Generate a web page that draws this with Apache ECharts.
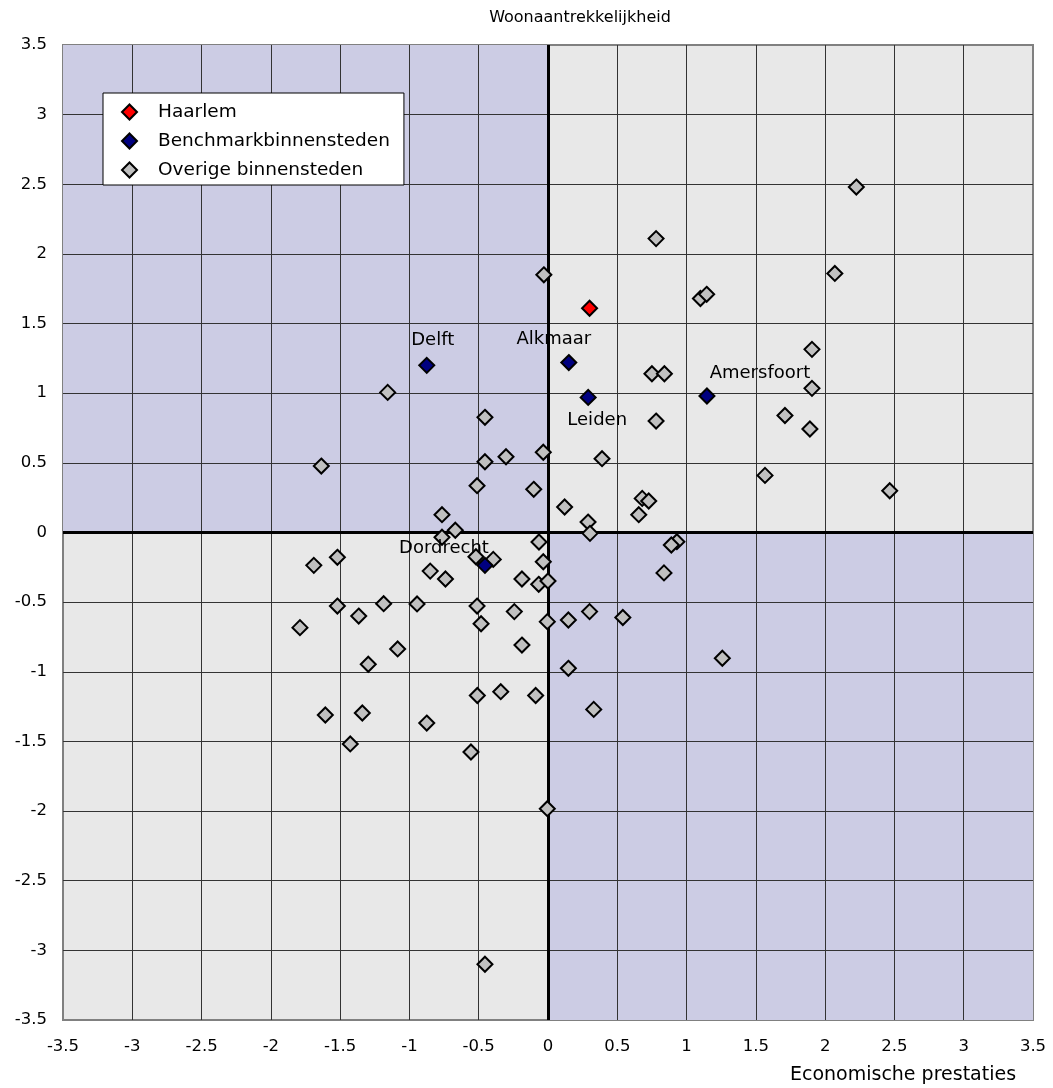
<!DOCTYPE html>
<html>
<head>
<meta charset="utf-8">
<script src="https://cdn.jsdelivr.net/npm/echarts@6/dist/echarts.min.js"></script>
<style>
html,body{margin:0;padding:0;background:#fff;}
#chart{width:1053px;height:1088px;}
</style>
</head>
<body>
<div id="chart"></div>
<script>
// ---- data ----
const seriesNames = ['Haarlem', 'Benchmarkbinnensteden', 'Overige binnensteden'];
const haarlem = [[0.30, 1.61]];
const benchmarkNames = ['Delft', 'Alkmaar', 'Leiden', 'Amersfoort', 'Dordrecht'];
const benchmarkValues = [[-0.875, 1.20], [0.15, 1.22], [0.29, 0.97], [1.147, 0.98], [-0.455, -0.236]];
const overige = [
  [2.225, 2.48], [0.78, 2.11], [2.07, 1.86], [-0.03, 1.85], [1.10, 1.68], [1.145, 1.71],
  [1.905, 1.315], [0.75, 1.14], [0.84, 1.14], [1.905, 1.035], [-1.157, 1.006], [-0.455, 0.827],
  [0.78, 0.80], [1.71, 0.84], [1.89, 0.743], [-1.636, 0.477], [-0.455, 0.508], [-0.303, 0.544],
  [-0.034, 0.576], [0.39, 0.53], [1.566, 0.41], [2.466, 0.30], [-0.512, 0.336], [-0.103, 0.31],
  [0.12, 0.183], [0.68, 0.245], [0.727, 0.226], [0.655, 0.128], [-0.765, 0.128], [0.289, 0.075],
  [0.303, -0.006], [-0.669, 0.016], [-0.765, -0.034], [0.93, -0.066], [0.89, -0.09], [-0.065, -0.068],
  [-1.69, -0.236], [-1.52, -0.178], [-0.52, -0.174], [-0.395, -0.193], [-0.034, -0.21], [-0.85, -0.277],
  [-0.74, -0.334], [-0.188, -0.334], [-0.067, -0.372], [0.0, -0.348], [0.837, -0.29], [-1.52, -0.528],
  [-1.366, -0.60], [-1.186, -0.511], [-0.945, -0.513], [-0.512, -0.528], [-0.483, -0.655], [-0.243, -0.568],
  [-0.005, -0.64], [0.147, -0.628], [0.30, -0.568], [0.54, -0.61], [-1.79, -0.683], [-1.085, -0.836],
  [-1.297, -0.946], [-0.188, -0.808], [0.147, -0.975], [1.258, -0.903], [-0.51, -1.17], [-0.341, -1.143],
  [-0.089, -1.17], [0.33, -1.27], [-1.607, -1.31], [-1.34, -1.296], [-0.875, -1.368], [-1.427, -1.518],
  [-0.556, -1.576], [-0.005, -1.983], [-0.455, -3.10]
];
const axisMin = -3.5, axisMax = 3.5, axisStep = 0.5;
const chartTitle = 'Woonaantrekkelijkheid';
const xAxisTitle = 'Economische prestaties';

// ---- styling (kept separate from data) ----
const FONT = 'DejaVu Sans';
const labelOffsets = {
  'Delft': [6, -25],
  'Alkmaar': [-15, -23],
  'Leiden': [9, 23],
  'Amersfoort': [53, -23],
  'Dordrecht': [-41, -17]
};
const markerBase = { borderColor: '#000', borderWidth: 2, opacity: 1 };

const chart = echarts.init(document.getElementById('chart'), null, { renderer: 'canvas' });

const benchmarkData = benchmarkNames.map((n, i) => ({
  name: n,
  value: benchmarkValues[i],
  label: { offset: labelOffsets[n] }
}));

const option = {
  animation: false,
  backgroundColor: '#ffffff',
  textStyle: { fontFamily: FONT },
  grid: {
    left: 63, right: 20, top: 45, bottom: 68,
    show: true, backgroundColor: '#E8E8E8', borderColor: '#808080', borderWidth: 2, z: 0
  },
  legend: {
    data: seriesNames,
    orient: 'vertical',
    left: 103, top: 93,
    icon: 'diamond',
    itemWidth: 15, itemHeight: 15,
    itemGap: 9,
    padding: [9, 14, 5, 18],
    backgroundColor: '#ffffff',
    borderColor: '#000', borderWidth: 1,
    borderRadius: 0,
    inactiveColor: '#ccc',
    textStyle: { fontFamily: FONT, fontSize: 18.5, color: '#000', lineHeight: 20, padding: [0, 0, 0, 16] },
    z: 10
  },
  xAxis: {
    type: 'value', min: axisMin, max: axisMax, interval: axisStep, z: 3,
    axisLine: { show: false }, axisTick: { show: false },
    splitLine: { show: true, showMinLine: false, showMaxLine: false, lineStyle: { color: '#333', width: 1 } },
    axisLabel: { margin: 18, fontSize: 16.5, color: '#000', fontFamily: FONT, showMinLabel: true, showMaxLabel: true }
  },
  yAxis: {
    type: 'value', min: axisMin, max: axisMax, interval: axisStep, z: 3,
    axisLine: { show: false }, axisTick: { show: false },
    splitLine: { show: true, showMinLine: false, showMaxLine: false, lineStyle: { color: '#333', width: 1 } },
    axisLabel: { margin: 16, fontSize: 16.5, color: '#000', fontFamily: FONT, showMinLabel: true, showMaxLabel: true }
  },
  graphic: [
    { type: 'text', z: 20,
      style: { text: chartTitle, x: 580, y: 18, textAlign: 'center', textVerticalAlign: 'middle',
               font: '16px "' + FONT + '"', fill: '#000' } },
    { type: 'text', z: 20,
      style: { text: xAxisTitle, x: 903, y: 1075, textAlign: 'center', textVerticalAlign: 'middle',
               font: '19px "' + FONT + '"', fill: '#000' } }
  ],
  series: [
    {
      name: seriesNames[0], type: 'scatter', symbol: 'diamond', symbolSize: 15, z: 7,
      itemStyle: Object.assign({ color: '#FF0000' }, markerBase),
      data: haarlem
    },
    {
      name: seriesNames[1], type: 'scatter', symbol: 'diamond', symbolSize: 15, z: 6,
      itemStyle: Object.assign({ color: '#000080' }, markerBase),
      label: { show: true, position: 'inside', formatter: '{b}', color: '#000', opacity: 1,
               fontSize: 18, fontFamily: FONT },
      data: benchmarkData
    },
    {
      name: seriesNames[2], type: 'scatter', symbol: 'diamond', symbolSize: 15, z: 5,
      itemStyle: Object.assign({ color: '#C0C0C0' }, markerBase),
      data: overige
    },
    {
      type: 'scatter', data: [], z: 1, silent: true,
      markArea: {
        silent: true,
        itemStyle: { color: '#CCCCE4', opacity: 1 },
        data: [
          [{ xAxis: axisMin, yAxis: 0 }, { xAxis: 0, yAxis: axisMax }],
          [{ xAxis: 0, yAxis: axisMin }, { xAxis: axisMax, yAxis: 0 }]
        ]
      }
    },
    {
      type: 'scatter', data: [], z: 4, silent: true,
      markLine: {
        silent: true, symbol: ['none', 'none'], label: { show: false },
        lineStyle: { color: '#000', width: 3, type: 'solid', opacity: 1 },
        data: [{ xAxis: 0 }, { yAxis: 0 }]
      }
    }
  ]
};
chart.setOption(option);
</script>
</body>
</html>
